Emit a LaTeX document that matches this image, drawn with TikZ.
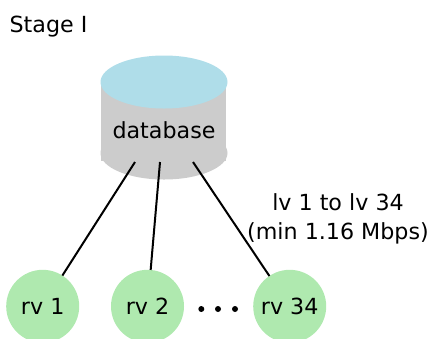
\documentclass[tikz,border=0pt]{standalone}
\usepackage{fontspec}
\setmainfont{DejaVu Sans}
\usetikzlibrary{shapes, arrows, calc}
\definecolor{dbblue}{HTML}{AFDDE9}
\definecolor{dbgray}{HTML}{CCCCCC}
\definecolor{rvgreen}{HTML}{AFE9AF}

\begin{document}
\begin{tikzpicture}[
    x = 0.5pt, y = -0.5pt,
    line width = 1pt,
    receiver/.style = {circle,
      fill = rvgreen,
      inner sep = 0pt,
      outer sep = 0pt,
      minimum size = 36.5pt},
    dbend/.style = {ellipse,
      inner sep = 0pt,
      outer sep = 0pt,
      minimum width = 63.5pt,
      minimum height = 26.5pt},
    dot/.style = {circle,
      fill = black,
      inner sep = 0pt,
      minimum size = 3pt},
    label/.style = {font = \fontsize{11.1}{14.5}\selectfont}
    ]
    \useasboundingbox (0, 0) rectangle (431, 338);
    \clip (0, 0) rectangle (431, 338);

    \node at (164, 153) [dbend, fill = dbgray, name = dbbase] {};
    \node at (163.5, 121.5) [fill = dbgray, inner sep = 0pt,
      minimum width = 62.5pt, minimum height = 39.5pt, name = dbbody] {};
    \node at (164, 82) [dbend, fill = dbblue, name = dbtop] {};
    \node at (164, 130.5) [label, name = database] {database};

    \node at (42.7, 306.3) [receiver, label, name = rva] {rv 1};
    \node at (147.5, 306.3) [receiver, label, name = rvb] {rv 2};
    \node at (289.7, 306.3) [receiver, label, name = rvc] {rv 34};

    \node at (201.3, 309) [dot, name = dota] {};
    \node at (218, 309) [dot, name = dotb] {};
    \node at (235, 309) [dot, name = dotc] {};

    \node at (48.5, 26.5) [label, name = stage] {Stage I};
    \node at (338, 218.5) [label, align = center, name = rate]
    {lv 1 to lv 34\\(min 1.16 Mbps)};

    \coordinate (outa) at (135, 162);
    \coordinate (outb) at (160, 162);
    \coordinate (outc) at (193, 162);

    \draw (outa) to (rva);
    \draw (outb) to (rvb);
    \draw (outc) to (rvc);
  \end{tikzpicture}
\end{document}
